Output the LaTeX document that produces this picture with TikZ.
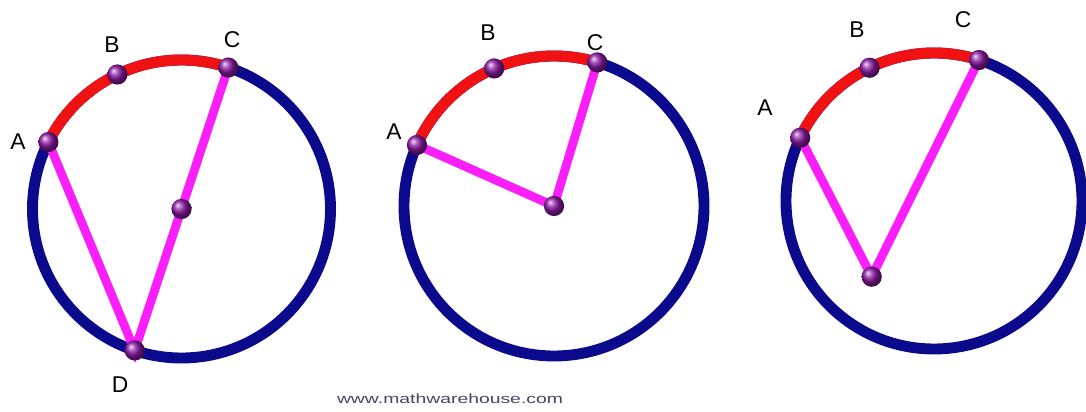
\documentclass[tikz,border=0pt]{standalone}
\usepackage{fontspec}
\setmainfont{Liberation Sans}
\definecolor{rimblue}{RGB}{12,10,140}
\definecolor{arcred}{RGB}{240,18,18}
\definecolor{chordpink}{RGB}{250,30,250}
\definecolor{dotpurple}{RGB}{140,25,165}
\definecolor{webgray}{RGB}{75,65,95}
\begin{document}
\begin{tikzpicture}[x=0.02cm,y=0.02cm,
  rim/.style={draw=rimblue,line width=6.2pt},
  arcpart/.style={draw=arcred,line width=6.2pt},
  chord/.style={draw=chordpink,line width=5pt},
  dot/.style={circle,inner sep=0pt,minimum size=11.5pt,shading=ball,ball color=dotpurple},
  lbl/.style={font=\fontsize{13}{15}\selectfont}]
\useasboundingbox (0,0) rectangle (1086,412);
\coordinate (O1) at (181.5,203);
\coordinate (A1) at ([shift={(153.3:149)}]O1);
\coordinate (B1) at ([shift={(115.5:149)}]O1);
\coordinate (C1) at ([shift={(71.7:149)}]O1);
\coordinate (D1) at ([shift={(251.7:149)}]O1);
\draw[rim] (O1) circle (149);
\draw[arcpart] (C1) arc[start angle=71.7,end angle=153.3,radius=149];
\draw[chord] (A1) -- (D1) -- (C1);
\node[dot] (dA1) at (A1) {};
\node[dot] (dB1) at (B1) {};
\node[dot] (dC1) at (C1) {};
\node[dot] (dD1) at (D1) {};
\node[dot] (dO1) at (O1) {};
\node[lbl] (lA1) at (18,270) {A};
\node[lbl] (lB1) at (112,367) {B};
\node[lbl] (lC1) at (232,372) {C};
\node[lbl] (lD1) at (120,27) {D};
\coordinate (O2) at (554,206);
\coordinate (A2) at ([shift={(156:150)}]O2);
\coordinate (B2) at ([shift={(113.5:150)}]O2);
\coordinate (C2) at ([shift={(73.2:150)}]O2);
\draw[rim] (O2) circle (150);
\draw[arcpart] (C2) arc[start angle=73.2,end angle=156,radius=150];
\draw[chord] (A2) -- (O2) -- (C2);
\node[dot] (dA2) at (A2) {};
\node[dot] (dB2) at (B2) {};
\node[dot] (dC2) at (C2) {};
\node[dot] (dO2) at (O2) {};
\node[lbl] (lA2) at (394,280) {A};
\node[lbl] (lB2) at (488,379) {B};
\node[lbl] (lC2) at (595,369) {C};
\coordinate (O3) at (934,211);
\coordinate (A3) at ([shift={(154.7:148)}]O3);
\coordinate (B3) at ([shift={(115.8:148)}]O3);
\coordinate (C3) at ([shift={(72.3:148)}]O3);
\coordinate (P3) at (871.7,135.3);
\draw[rim] (O3) circle (148);
\draw[arcpart] (C3) arc[start angle=72.3,end angle=154.7,radius=148];
\draw[chord] (A3) -- (P3) -- (C3);
\node[dot] (dA3) at (A3) {};
\node[dot] (dB3) at (B3) {};
\node[dot] (dC3) at (C3) {};
\node[dot] (dP3) at (P3) {};
\node[lbl] (lA3) at (765,304) {A};
\node[lbl] (lB3) at (857,382) {B};
\node[lbl] (lC3) at (963,392) {C};
\node[font=\fontsize{7.6}{9}\selectfont,text=webgray,xscale=1.45] (site) at (450,13) {www.mathwarehouse.com};
\end{tikzpicture}
\end{document}
